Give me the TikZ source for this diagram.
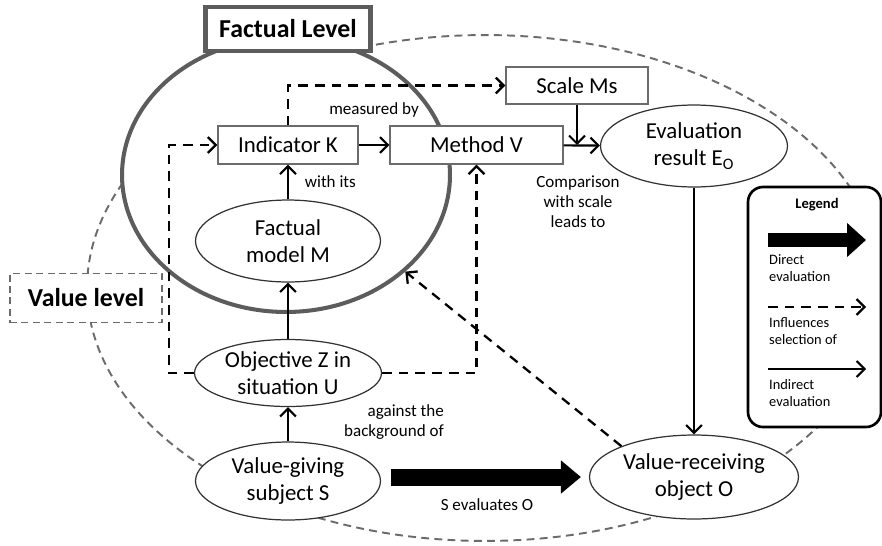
\documentclass[tikz,border=0pt]{standalone}
\usepackage{fontspec}
\setmainfont{Carlito}
\usetikzlibrary{arrows.meta,shapes,positioning}

\definecolor{levelgray}{gray}{0.36}
\definecolor{framegray}{gray}{0.42}

\tikzset{
	>={Straight Barb[length=4.5pt,width=9pt]},
	every node/.style={font=\fontsize{13}{15.5}\selectfont},
	blockbox/.style={rectangle,draw=framegray,line width=0.8pt,fill=white,minimum height=0.76cm},
	ovalbox/.style={ellipse,draw=black!80,line width=0.7pt,fill=white,align=center,inner sep=0pt},
	levelbox/.style={rectangle,fill=white,font=\bfseries\fontsize{14.7}{17}\selectfont},
	note/.style={font=\fontsize{9.7}{11.3}\selectfont,align=center},
	legtext/.style={font=\fontsize{8.2}{9.7}\selectfont,align=left,anchor=west},
	indirect/.style={->,line width=1.2pt},
	influence/.style={->,line width=1.3pt,dash pattern=on 5.5pt off 4pt},
	direct/.style={line width=0.34cm,-{Triangle[length=0.4cm,width=0.64cm]}}
}

\begin{document}
\begin{tikzpicture}[x=0.02cm,y=-0.02cm]
		\useasboundingbox (0,0) rectangle (882,545);
		% the two levels
		\node[ellipse,draw=framegray,line width=1.1pt,dash pattern=on 4.5pt off 3pt,
			minimum width=15.92cm,minimum height=10.12cm,inner sep=0pt] (valueArea) at (485,288) {};
		\node[ellipse,draw=levelgray,line width=2.3pt,fill=white,
			minimum width=6.56cm,minimum height=5.48cm,inner sep=0pt] (factArea) at (286,175) {};
		\node[levelbox,draw=levelgray,line width=2.3pt,minimum width=3.3cm,minimum height=0.88cm] (factLbl) at (288,29) {Factual Level};
		\node[levelbox,draw=framegray,line width=1.1pt,dash pattern=on 4pt off 2.5pt,minimum width=3.04cm,minimum height=0.98cm] (valueLbl) at (86,298) {Value level};
		%
		\node[blockbox,minimum width=2.8cm] (K) at (288,145) {Indicator K};
		\node[blockbox,minimum width=3.46cm] (V) at (476.5,145) {Method V};
		\node[blockbox,minimum width=2.84cm,minimum height=0.74cm] (Ms) at (577,85.5) {Scale Ms};
		\node[ovalbox,minimum width=3.74cm,minimum height=1.64cm] (E) at (694,146) {Evaluation\\result E\textsubscript{O}};
		\node[ovalbox,minimum width=3.7cm,minimum height=1.64cm] (M) at (288,241) {Factual\\model M};
		\node[ovalbox,minimum width=3.74cm,minimum height=1.34cm] (Z) at (288,373) {Objective Z in\\situation U};
		\node[ovalbox,minimum width=3.7cm,minimum height=1.56cm] (S) at (288,481) {Value-giving\\subject S};
		\node[ovalbox,minimum width=4.18cm,minimum height=1.68cm] (O) at (694,477) {Value-receiving\\object O};
		%
		\draw[indirect] (K) -- node[note,above=0.42cm]{measured by} (V);
		\draw[indirect] (M) -- node[note,right=0.2cm]{with its} (K);
		\draw[indirect] (Z) -- (M);
		\draw[indirect] (S) -- (Z);
		\node[note,align=right,anchor=east] (bgLbl) at (450,422) {against the\\background of};
		\draw[indirect] (V) -- (E);
		\draw[indirect] (Ms.south) -- (Ms.south |- V.east);
		\node[note] (cmpLbl) at (578,202) {Comparison\\with scale\\leads to};
		\draw[indirect] (E) -- (O);
		%
		\draw[influence] (K.north) |- (Ms.west);
		\draw[influence] (Z.west) -- ++(-25,0) |- (K.west);
		\draw[influence] (Z.east) -| (V.south);
		\draw[influence] (O.157) -- (factArea.-39);
		%
		\draw[direct] ([shift={(10,-4)}]S.east) -- ([xshift=-0.16cm]O.west);
		\node[note] (evalLbl) at (487,505) {S evaluates O};
		% legend
		\draw[line width=1.5pt,rounded corners=0.3cm,fill=white] (748,187) rectangle (881,427);
		\node[font=\bfseries\fontsize{8.3}{10}\selectfont] (lgTitle) at (817,205) {Legend};
		\coordinate (lgA) at (768,240);
		\coordinate (lgB) at (866,240);
		\draw[direct,line width=0.28cm,-{Triangle[length=0.38cm,width=0.66cm]}] (lgA) -- (lgB);
		\node[legtext] (lgDirect) at (763,268) {Direct\\evaluation};
		\coordinate (lgC) at (768,307);
		\coordinate (lgD) at (866,307);
		\draw[influence] (lgC) -- (lgD);
		\node[legtext] (lgInfl) at (763,331) {Influences\\selection of};
		\coordinate (lgE) at (768,369);
		\coordinate (lgF) at (866,369);
		\draw[indirect] (lgE) -- (lgF);
		\node[legtext] (lgIndir) at (763,393) {Indirect\\evaluation};
\end{tikzpicture}
\end{document}
